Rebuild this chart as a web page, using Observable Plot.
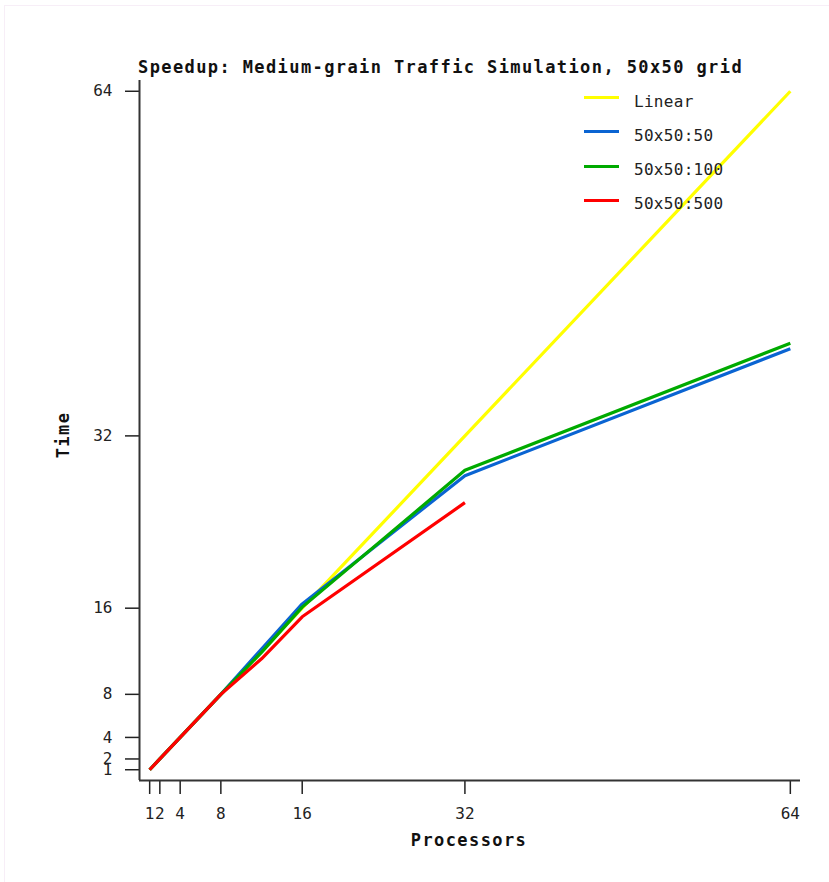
<!DOCTYPE html>
<html>
<head>
<meta charset="utf-8">
<script src="https://cdn.jsdelivr.net/npm/d3@7"></script>
<script src="https://cdn.jsdelivr.net/npm/@observablehq/plot@0.6"></script>
<style>
  html, body { margin: 0; padding: 0; background: #fff; }
  #wrap { position: relative; width: 829px; height: 882px; overflow: hidden; }
  #frame { position: absolute; left: 4px; top: 5px; width: 840px; height: 900px;
           border-top: 1px solid #f7eef7; border-left: 1px solid #f7eef7; }
  .lbl { position: absolute; font-family: "DejaVu Sans Mono", monospace; font-weight: bold;
         font-size: 17px; letter-spacing: 1.4px; color: #111; white-space: nowrap; line-height: 20px; }
  .leg { position: absolute; font-family: "DejaVu Sans Mono", monospace; font-size: 16px;
         letter-spacing: 0.3px; color: #222; white-space: nowrap; line-height: 20px; }
  .bar { position: absolute; height: 3px; width: 35px; }
  svg { position: absolute; left: 0; top: 0; }
</style>
</head>
<body>
<div id="wrap"><div id="frame"></div></div>
<script>
// ---- data ----
const processors = [1, 2, 4, 8, 12, 16, 32, 64];
const linear     = [1, 2, 4, 8, 12, 16, 32, 64];
const speed50    = [1, 2, 4, 8, 12.2, 16.4, 28.3, 40.1];
const speed100   = [1, 2, 4, 8, 11.9, 16.1, 28.8, 40.6];
const speed500   = [1, 2, 4, 8, 11.3, 15.2, 25.8];
const seriesNames  = ["Linear", "50x50:50", "50x50:100", "50x50:500"];
const seriesColors = ["#ffff00", "#0a64d2", "#00aa00", "#ff0000"];
const xTicks = [1, 2, 4, 8, 16, 32, 64];
const yTicks = [1, 2, 4, 8, 16, 32, 64];
const titleText = "Speedup: Medium-grain Traffic Simulation, 50x50 grid";
const xLabel = "Processors";
const yLabel = "Time";

const seriesValues = [linear, speed50, speed100, speed500];
const rows = seriesValues.map((vals, i) =>
  vals.map((v, j) => ({p: processors[j], v, s: seriesNames[i]})));

const wrap = document.getElementById("wrap");

const chart = Plot.plot({
  width: 829,
  height: 882,
  marginLeft: 139,
  marginRight: 29,
  marginTop: 80,
  marginBottom: 102,
  style: {fontFamily: "DejaVu Sans Mono, monospace", fontSize: "16px", color: "#222", background: "transparent"},
  x: {domain: [0, 65]},
  y: {domain: [0, 65]},
  color: {domain: seriesNames, range: seriesColors},
  marks: [
    Plot.axisX({ticks: xTicks, tickSize: 14, tickPadding: 13, label: null, strokeWidth: 1.5, fontSize: 16}),
    Plot.axisY({ticks: yTicks, tickSize: 14, tickPadding: 13, label: null, strokeWidth: 1.5, fontSize: 16}),
    ...rows.map(r => Plot.line(r, {x: "p", y: "v", stroke: "s", strokeWidth: 3.2, strokeLinecap: "butt"})),
    Plot.ruleX([0], {stroke: "#333", strokeWidth: 2}),
    Plot.ruleY([0], {stroke: "#333", strokeWidth: 2})
  ]
});
wrap.appendChild(chart);

// title and axis labels
const t = document.createElement("div");
t.className = "lbl"; t.textContent = titleText;
t.style.left = "138px"; t.style.top = "57px";
wrap.appendChild(t);

const xl = document.createElement("div");
xl.className = "lbl"; xl.textContent = xLabel;
xl.style.left = "469px"; xl.style.top = "830px"; xl.style.transform = "translateX(-50%)";
wrap.appendChild(xl);

const yl = document.createElement("div");
yl.className = "lbl"; yl.textContent = yLabel;
yl.style.left = "63px"; yl.style.top = "435px";
yl.style.transform = "translate(-50%, -50%) rotate(-90deg)";
wrap.appendChild(yl);

// legend
seriesNames.forEach((name, i) => {
  const cy = 97.5 + i * 34.3;
  const b = document.createElement("div");
  b.className = "bar"; b.style.background = seriesColors[i];
  b.style.left = "584px"; b.style.top = (cy - 1.5) + "px";
  wrap.appendChild(b);
  const l = document.createElement("div");
  l.className = "leg"; l.textContent = name;
  l.style.left = "634px"; l.style.top = (cy + 4 - 10) + "px";
  wrap.appendChild(l);
});
</script>
</body>
</html>
